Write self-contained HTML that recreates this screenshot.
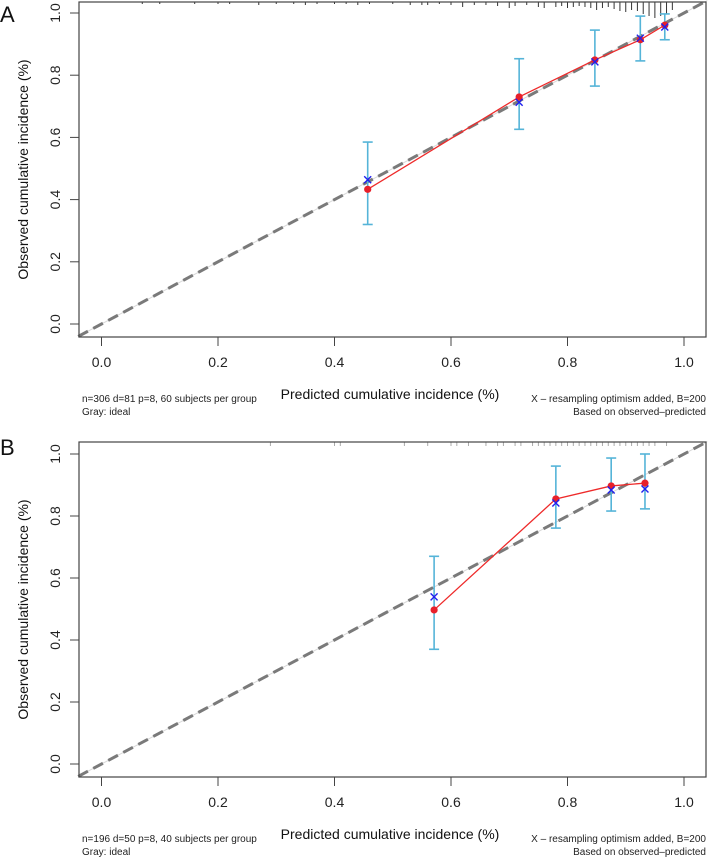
<!DOCTYPE html>
<html><head><meta charset="utf-8">
<style>
html,body{margin:0;padding:0;background:#fff;}
svg{display:block;font-family:"Liberation Sans",Arial,sans-serif;}
.tick{font-size:14px;fill:#222;}
.title{font-size:14px;fill:#111;}
.note{font-size:10px;fill:#222;font-family:"Liberation Sans Narrow","Liberation Sans",sans-serif;}
</style></head>
<body>
<svg id="chart" width="708" height="858" viewBox="0 0 708 858"></svg>
<script>
// ---- Panel A data ----
const predA = [0.457, 0.717, 0.847, 0.925, 0.967];
const obsA = [0.433, 0.730, 0.849, 0.914, 0.961];
const corrA = [0.464, 0.713, 0.843, 0.919, 0.955];
const lowA = [0.320, 0.626, 0.765, 0.846, 0.914];
const highA = [0.585, 0.853, 0.945, 0.990, 0.997];
const rugA = [0.07,0.1,0.16,0.2,0.22,0.27,0.3,0.33,0.35,0.37,0.4,0.42,0.44,0.46,0.5,0.53,0.55,0.56,0.58,0.6,0.62,0.64,0.66,0.68,0.7,0.71,0.73,0.75,0.76,0.78,0.79,0.8,0.81,0.82,0.83,0.84,0.85,0.86,0.87,0.88,0.89,0.9,0.91,0.92,0.93,0.94,0.95,0.96,0.97,0.98];
const rugLenA = [2,2,2,2,2,3,2,2,3,2,2,2,3,2,2,3,3,3,2,3,5,3,3,4,6,4,3,5,6,5,4,6,5,4,5,6,8,6,5,7,9,10,8,9,12,14,16,14,12,8];
// ---- Panel B data ----
const predB = [0.571, 0.780, 0.875, 0.933];
const obsB = [0.497, 0.855, 0.897, 0.906];
const corrB = [0.539, 0.842, 0.884, 0.887];
const lowB = [0.370, 0.761, 0.816, 0.823];
const highB = [0.670, 0.961, 0.987, 1.000];
const rugB = [0.29,0.4,0.41,0.52,0.56,0.6,0.61,0.63,0.66,0.68,0.69,0.71,0.72,0.74,0.75,0.76,0.77,0.78,0.79,0.8,0.81,0.82,0.83,0.84,0.85,0.86,0.87,0.88,0.89,0.9,0.91,0.92,0.93,0.94,0.95,0.97];
const xTicks = [0, 0.2, 0.4, 0.6, 0.8, 1.0];
const xTickLabels = ["0.0","0.2","0.4","0.6","0.8","1.0"];
const yTicks = [0, 0.2, 0.4, 0.6, 0.8, 1.0];
const yTickLabels = ["0.0","0.2","0.4","0.6","0.8","1.0"];

const NS = "http://www.w3.org/2000/svg";
const svg = document.getElementById('chart');
function mk(tag, attrs, parent, text){
  const e = document.createElementNS(NS, tag);
  for (const k in attrs) e.setAttribute(k, attrs[k]);
  if (text !== undefined) e.textContent = text;
  (parent || svg).appendChild(e);
  return e;
}

function panel(cfg){
  const X = v => 101.5 + v * 582.5;
  const Y = v => cfg.y0 - v * cfg.ys;
  const g = mk('g', {});
  
  
  const top = cfg.boxTop, bot = cfg.boxBot;
  // panel letter
  const lt = mk('text', {x: 0, y: cfg.letterY, 'font-size': 22, fill: '#111'}, g, cfg.letter);
  
  
  // ideal line thin + dashed
  const x1 = X(-0.04), x2 = X(1.04);
  const il = mk('line', {x1: x1, y1: Y(-0.04), x2: x2, y2: Y(1.04), stroke: '#d8d8d8', 'stroke-width': 1}, g);
  
  
  const dl = mk('line', {x1: x1, y1: Y(-0.04), x2: x2, y2: Y(1.04), stroke: '#7a7a7a', 'stroke-width': 3, 'stroke-dasharray': '11 6'}, g);
  
  
  // rug
  cfg.rug.forEach((v, i) => {
    const len = cfg.rugLen ? cfg.rugLen[i] : 4;
    const r = mk('line', {x1: X(v), x2: X(v), y1: top, y2: top + len, stroke: cfg.rugColor, 'stroke-width': 1}, g);
    
    
  });
  // red line
  const pts = cfg.pred.map((p, i) => X(p) + ',' + Y(cfg.obs[i])).join(' ');
  const pl = mk('polyline', {points: pts, fill: 'none', stroke: '#ee2a2a', 'stroke-width': 1.3}, g);
  
  
  // error bars
  cfg.pred.forEach((p, i) => {
    const x = X(p);
    const eb = mk('g', {stroke: '#55b4d8', 'stroke-width': 1.6}, g);
    
    
    mk('line', {x1: x, x2: x, y1: Y(cfg.high[i]), y2: Y(cfg.low[i])}, eb);
    mk('line', {x1: x - 5, x2: x + 5, y1: Y(cfg.high[i]), y2: Y(cfg.high[i])}, eb);
    mk('line', {x1: x - 5, x2: x + 5, y1: Y(cfg.low[i]), y2: Y(cfg.low[i])}, eb);
  });
  // points
  cfg.pred.forEach((p, i) => {
    const c = mk('circle', {cx: X(p), cy: Y(cfg.obs[i]), r: 3.6, fill: '#e8202a'}, g);
    
    
    const xx = X(p), yy = Y(cfg.corr[i]);
    const cx = mk('path', {d: `M${xx-3.5},${yy-3.5}L${xx+3.5},${yy+3.5}M${xx-3.5},${yy+3.5}L${xx+3.5},${yy-3.5}`, stroke: '#2020ee', 'stroke-width': 1.4}, g);
    
    
  });
  // box
  const bx = mk('rect', {x: 79, y: top, width: 627, height: bot - top, fill: 'none', stroke: '#444', 'stroke-width': 1.2}, g);
  
  
  // x axis
  const xa = mk('g', {}, g);
  
  
  xTicks.forEach((v, i) => {
    mk('line', {x1: X(v), x2: X(v), y1: bot, y2: bot + 9, stroke: '#444', 'stroke-width': 1}, xa);
    const t = mk('text', {x: X(v), y: bot + 30, 'text-anchor': 'middle', class: 'tick'}, xa, xTickLabels[i]);
    
    
  });
  // y axis
  const ya = mk('g', {}, g);
  
  
  yTicks.forEach((v, i) => {
    mk('line', {x1: 79, x2: 70, y1: Y(v), y2: Y(v), stroke: '#444', 'stroke-width': 1}, ya);
    const t = mk('text', {x: 0, y: 0, transform: `translate(60,${Y(v)}) rotate(-90)`, 'text-anchor': 'middle', class: 'tick'}, ya, yTickLabels[i]);
    
    
  });
  const yt = mk('text', {x: 0, y: 0, transform: `translate(28,${(top + bot) / 2}) rotate(-90)`, 'text-anchor': 'middle', class: 'title'}, g, 'Observed cumulative incidence (%)');
  
  
  const xt = mk('text', {x: 390, y: bot + 62, 'text-anchor': 'middle', class: 'title'}, g, 'Predicted cumulative incidence (%)');
  
  
  const n1 = mk('text', {x: 82, y: bot + 65, class: 'note'}, g, cfg.note);
  
  
  const n2 = mk('text', {x: 82, y: bot + 78, class: 'note'}, g, 'Gray: ideal');
  
  
  const n3 = mk('text', {x: 706, y: bot + 65, 'text-anchor': 'end', class: 'note'}, g, 'X \u2013 resampling optimism added, B=200');
  
  
  const n4 = mk('text', {x: 706, y: bot + 78, 'text-anchor': 'end', class: 'note'}, g, 'Based on observed\u2013predicted');
  
  
}

panel({name: 'panel-a', letter: 'A', letterY: 22, y0: 324, ys: 311, boxTop: 2, boxBot: 337,
  pred: predA, obs: obsA, corr: corrA, low: lowA, high: highA, rug: rugA, rugLen: rugLenA, rugColor: '#333',
  note: 'n=306 d=81 p=8, 60 subjects per group'});
panel({name: 'panel-b', letter: 'B', letterY: 455, y0: 764, ys: 310, boxTop: 442, boxBot: 777,
  pred: predB, obs: obsB, corr: corrB, low: lowB, high: highB, rug: rugB, rugLen: null, rugColor: '#aaa',
  note: 'n=196 d=50 p=8, 40 subjects per group'});
</script>
</body></html>
